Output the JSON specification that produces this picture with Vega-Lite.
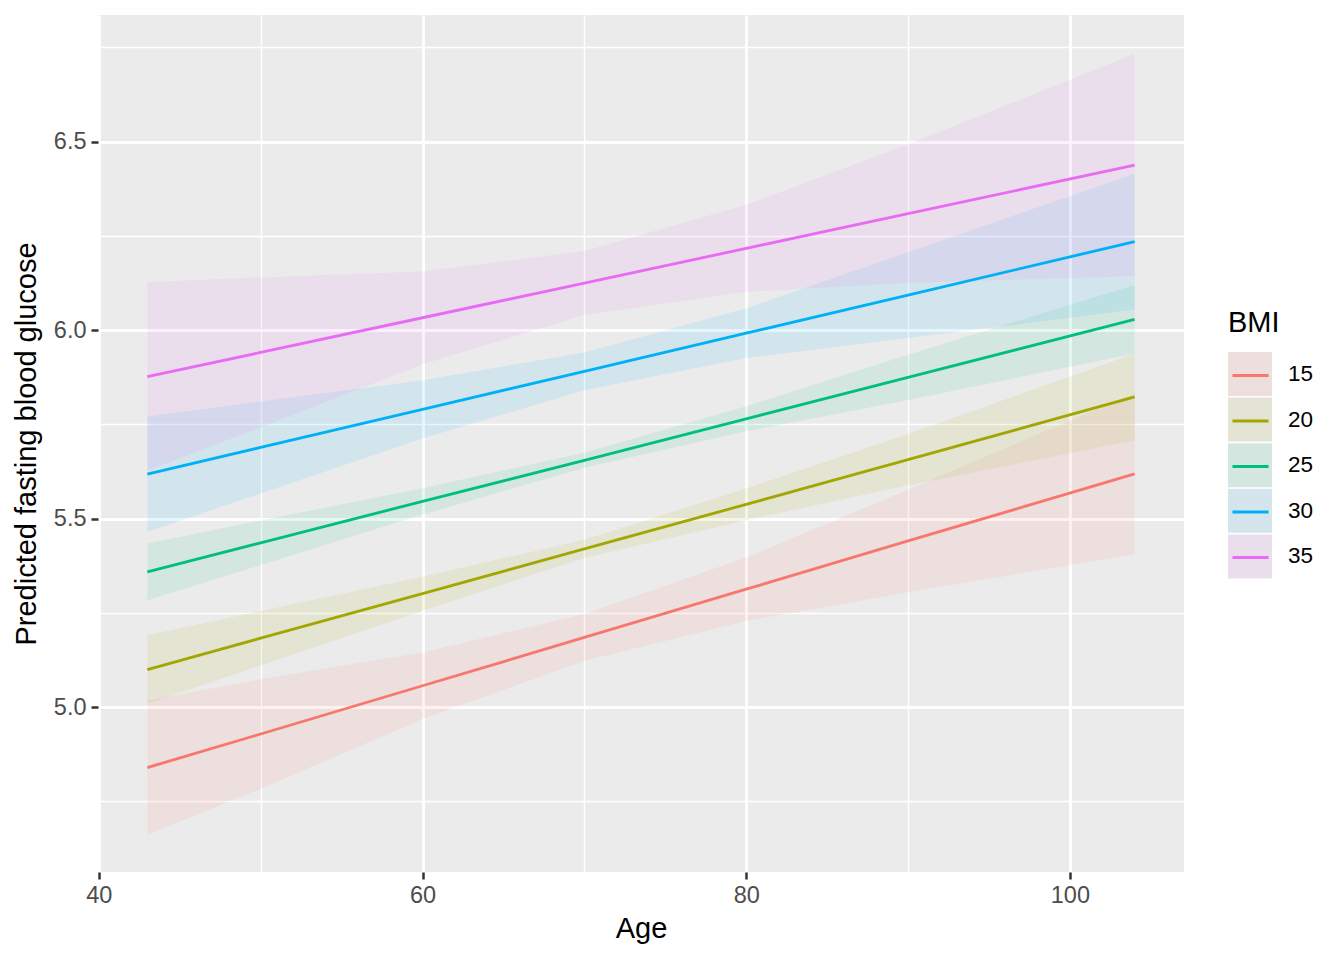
{
  "$schema": "https://vega.github.io/schema/vega-lite/v6.json",
  "width": 1086,
  "height": 857,
  "autosize": {"type": "none"},
  "padding": {"left": 98, "top": 15, "right": 160, "bottom": 88},
  "background": "white",
  "config": {
    "font": "Liberation Sans",
    "view": {"fill": "#EBEBEB", "stroke": null}
  },
  "data": {
    "values": [
      {"BMI": 15, "Age": 43, "fit": 4.840, "lo": 4.662, "hi": 5.018},
      {"BMI": 15, "Age": 50, "fit": 4.929, "lo": 4.784, "hi": 5.074},
      {"BMI": 15, "Age": 60, "fit": 5.057, "lo": 4.969, "hi": 5.145},
      {"BMI": 15, "Age": 70, "fit": 5.185, "lo": 5.123, "hi": 5.247},
      {"BMI": 15, "Age": 80, "fit": 5.313, "lo": 5.229, "hi": 5.397},
      {"BMI": 15, "Age": 90, "fit": 5.441, "lo": 5.305, "hi": 5.577},
      {"BMI": 15, "Age": 104, "fit": 5.619, "lo": 5.405, "hi": 5.833},
      {"BMI": 20, "Age": 43, "fit": 5.100, "lo": 5.009, "hi": 5.191},
      {"BMI": 20, "Age": 50, "fit": 5.183, "lo": 5.111, "hi": 5.255},
      {"BMI": 20, "Age": 60, "fit": 5.301, "lo": 5.256, "hi": 5.346},
      {"BMI": 20, "Age": 70, "fit": 5.420, "lo": 5.396, "hi": 5.444},
      {"BMI": 20, "Age": 80, "fit": 5.538, "lo": 5.496, "hi": 5.580},
      {"BMI": 20, "Age": 90, "fit": 5.657, "lo": 5.589, "hi": 5.725},
      {"BMI": 20, "Age": 104, "fit": 5.823, "lo": 5.708, "hi": 5.938},
      {"BMI": 25, "Age": 43, "fit": 5.359, "lo": 5.284, "hi": 5.434},
      {"BMI": 25, "Age": 50, "fit": 5.436, "lo": 5.377, "hi": 5.495},
      {"BMI": 25, "Age": 60, "fit": 5.546, "lo": 5.511, "hi": 5.581},
      {"BMI": 25, "Age": 70, "fit": 5.655, "lo": 5.635, "hi": 5.675},
      {"BMI": 25, "Age": 80, "fit": 5.765, "lo": 5.732, "hi": 5.798},
      {"BMI": 25, "Age": 90, "fit": 5.875, "lo": 5.815, "hi": 5.935},
      {"BMI": 25, "Age": 104, "fit": 6.029, "lo": 5.938, "hi": 6.120},
      {"BMI": 30, "Age": 43, "fit": 5.618, "lo": 5.465, "hi": 5.771},
      {"BMI": 30, "Age": 50, "fit": 5.689, "lo": 5.567, "hi": 5.811},
      {"BMI": 30, "Age": 60, "fit": 5.790, "lo": 5.713, "hi": 5.867},
      {"BMI": 30, "Age": 70, "fit": 5.891, "lo": 5.841, "hi": 5.941},
      {"BMI": 30, "Age": 80, "fit": 5.992, "lo": 5.926, "hi": 6.058},
      {"BMI": 30, "Age": 90, "fit": 6.093, "lo": 5.979, "hi": 6.207},
      {"BMI": 30, "Age": 104, "fit": 6.235, "lo": 6.055, "hi": 6.415},
      {"BMI": 35, "Age": 43, "fit": 5.877, "lo": 5.627, "hi": 6.127},
      {"BMI": 35, "Age": 50, "fit": 5.941, "lo": 5.742, "hi": 6.140},
      {"BMI": 35, "Age": 60, "fit": 6.033, "lo": 5.910, "hi": 6.156},
      {"BMI": 35, "Age": 70, "fit": 6.125, "lo": 6.040, "hi": 6.210},
      {"BMI": 35, "Age": 80, "fit": 6.217, "lo": 6.102, "hi": 6.332},
      {"BMI": 35, "Age": 90, "fit": 6.309, "lo": 6.125, "hi": 6.493},
      {"BMI": 35, "Age": 104, "fit": 6.438, "lo": 6.143, "hi": 6.733}
    ]
  },
  "encoding": {
    "x": {
      "field": "Age",
      "type": "quantitative",
      "scale": {"domain": [39.95, 107.05], "nice": false, "zero": false},
      "axis": {
        "title": "Age",
        "titleFontSize": 29,
        "titleFontWeight": "normal",
        "titleColor": "black",
        "titlePadding": 8,
        "values": [40, 50, 60, 70, 80, 90, 100],
        "labelExpr": "datum.value % 20 === 0 ? datum.label : ''",
        "labelFontSize": 23.5,
        "labelColor": "#4D4D4D",
        "labelPadding": 4,
        "labelOverlap": false,
        "labelFlush": false,
        "domain": false,
        "tickColor": "#333333",
        "tickSize": 7,
        "tickWidth": 2.5,
        "tickOpacity": {"condition": {"test": "datum.value % 20 === 0", "value": 1}, "value": 0},
        "grid": true,
        "gridColor": "white",
        "gridOpacity": 1,
        "gridWidth": {"condition": {"test": "datum.value % 20 === 0", "value": 2.85}, "value": 1.42}
      }
    },
    "y": {
      "field": "fit",
      "type": "quantitative",
      "scale": {"domain": [4.563, 6.836], "nice": false, "zero": false},
      "axis": {
        "title": "Predicted fasting blood glucose",
        "titleFontSize": 29,
        "titleFontWeight": "normal",
        "titleColor": "black",
        "titlePadding": 12,
        "values": [4.75, 5, 5.25, 5.5, 5.75, 6, 6.25, 6.5, 6.75],
        "labelExpr": "datum.value * 4 % 2 === 0 ? format(datum.value, '.1f') : ''",
        "labelFontSize": 23.5,
        "labelColor": "#4D4D4D",
        "labelPadding": 5,
        "labelOverlap": false,
        "labelFlush": false,
        "domain": false,
        "tickColor": "#333333",
        "tickSize": 7,
        "tickWidth": 2.5,
        "tickOpacity": {"condition": {"test": "datum.value * 4 % 2 === 0", "value": 1}, "value": 0},
        "grid": true,
        "gridColor": "white",
        "gridOpacity": 1,
        "gridWidth": {"condition": {"test": "datum.value * 4 % 2 === 0", "value": 2.85}, "value": 1.42}
      }
    }
  },
  "layer": [
    {
      "mark": {"type": "square", "opacity": 0},
      "encoding": {
        "color": {
          "field": "BMI",
          "type": "nominal",
          "scale": {"range": ["#ECDFDE", "#E4E4D4", "#D4E7E0", "#D4E5EC", "#EBDEEC"]},
          "legend": {
            "orient": "none",
            "legendX": 1130,
            "legendY": 294,
            "padding": 0,
            "title": "BMI",
            "titleFontSize": 29,
            "titleFontWeight": "normal",
            "titleColor": "black",
            "titlePadding": 14,
            "symbolType": "M-1,-1M1,1M-1,-1H1V1H-1Z",
            "symbolSize": 1936,
            "symbolOpacity": 1,
            "symbolStrokeWidth": 0,
            "labelFontSize": 22.5,
            "labelColor": "black",
            "labelOffset": 16,
            "rowPadding": 1.6
          }
        }
      }
    },
    {
      "mark": {"type": "area", "fillOpacity": 0.1},
      "encoding": {
        "y": {"field": "lo", "type": "quantitative"},
        "y2": {"field": "hi"},
        "fill": {
          "field": "BMI",
          "type": "nominal",
          "scale": {"range": ["#F8766D", "#A3A500", "#00BF7D", "#00B0F6", "#E76BF3"]},
          "legend": null
        }
      }
    },
    {
      "mark": {"type": "line", "strokeWidth": 2.85},
      "encoding": {
        "stroke": {
          "field": "BMI",
          "type": "nominal",
          "scale": {"domain": [15, 20, 25, 30, 35], "range": ["#F8766D", "#A3A500", "#00BF7D", "#00B0F6", "#E76BF3"]},
          "legend": {
            "orient": "none",
            "legendX": 1129,
            "legendY": 294,
            "padding": 0,
            "title": " ",
            "titleFontSize": 29,
            "titleFontWeight": "normal",
            "titlePadding": 14,
            "symbolType": "M0,-0.7M0,0.7M-0.82,0H0.82",
            "symbolSize": 1936,
            "symbolStrokeWidth": 2.85,
            "symbolOpacity": 1,
            "labelFontSize": 22.5,
            "labelExpr": "''",
            "labelOffset": 16,
            "rowPadding": 0.5
          }
        }
      }
    }
  ]
}
